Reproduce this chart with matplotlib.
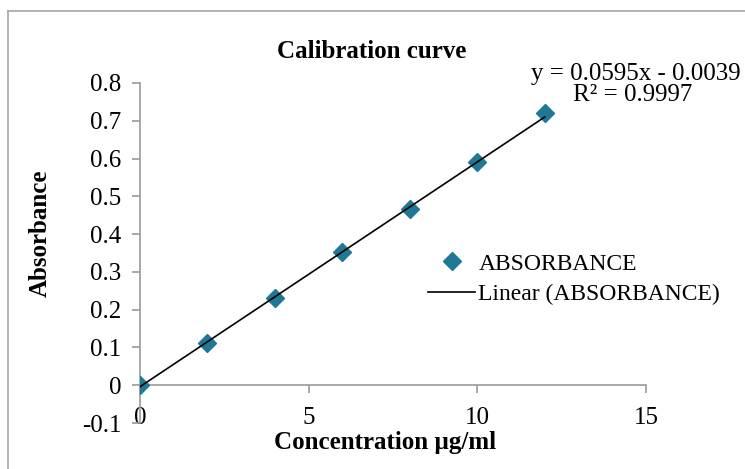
import matplotlib.pyplot as plt
from matplotlib.lines import Line2D
import numpy as np

plt.rcParams['font.family'] = ['Liberation Serif', 'DejaVu Serif']

concentration = [0, 2, 4, 6, 8, 10, 12]
absorbance = [0.0, 0.113, 0.232, 0.353, 0.466, 0.590, 0.720]
slope, intercept = 0.0595, -0.0039
eq_text = "y = 0.0595x - 0.0039"
r2_text = "R² = 0.9997"
xticks = [0, 5, 10, 15]
yticks = [-0.1, 0, 0.1, 0.2, 0.3, 0.4, 0.5, 0.6, 0.7, 0.8]

W, H = 745, 469
fig = plt.figure(figsize=(W / 100, H / 100), dpi=100)
ax = fig.add_axes([140 / W, 1 - 423 / H, (646 - 140) / W, (423 - 83) / H])

# outer chart border (only top and left visible in the crop)
fig.add_artist(Line2D([8 / W, 1], [1 - 11 / H] * 2, color='#a6a6a6', lw=1.2))
fig.add_artist(Line2D([8 / W] * 2, [0, 1 - 11 / H], color='#a6a6a6', lw=1.2))

teal = '#1f7896'
ax.plot(concentration, absorbance, 'D', color=teal, markersize=9, label='ABSORBANCE',
        zorder=3)
xfit = np.array([concentration[0], concentration[-1]])
ax.plot(xfit, slope * xfit + intercept, color='black', lw=1.2,
        label='Linear (ABSORBANCE)', zorder=4)

ax.set_xlim(0, 15)
ax.set_ylim(-0.1, 0.8)
ax.set_xticks(xticks)
ax.set_yticks(yticks)
ax.set_yticklabels([f'{v:g}' for v in yticks])

for s in ['top', 'right']:
    ax.spines[s].set_visible(False)
ax.spines['bottom'].set_position(('data', 0))
for s in ['bottom', 'left']:
    ax.spines[s].set_color('#9a9a9a')
    ax.spines[s].set_linewidth(1.2)
ax.tick_params(axis='both', colors='#9a9a9a', labelcolor='black', labelsize=18,
               length=5.5, width=1.2)
ax.tick_params(axis='x', pad=10)
ax.tick_params(axis='y', pad=8)

fs = 18
fig.text(372 / W, 1 - 58 / H, 'Calibration curve', ha='center', va='baseline',
         fontsize=fs, fontweight='bold')
fig.text(636 / W, 1 - 80 / H, eq_text, ha='center', va='baseline', fontsize=fs)
fig.text(633 / W, 1 - 101 / H, r2_text, ha='center', va='baseline', fontsize=fs)
fig.text(385 / W, 1 - 449 / H, 'Concentration µg/ml', ha='center', va='baseline',
         fontsize=fs, fontweight='bold')
fig.text(40 / W, 1 - 233 / H, 'Absorbance', ha='center', va='center',
         rotation=90, fontsize=fs, fontweight='bold')

ax.legend(loc='upper left', bbox_to_anchor=(428 / W, 1 - 253 / H),
          bbox_transform=fig.transFigure, frameon=False, fontsize=17,
          handlelength=2.0, handletextpad=0.13, labelspacing=0.38, borderpad=0,
          borderaxespad=0)

fig.savefig('out.png', dpi=100)
